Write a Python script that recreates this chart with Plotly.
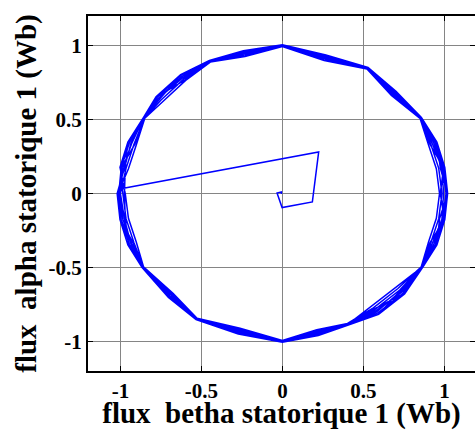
import numpy as np
import plotly.graph_objects as go

# Stator flux locus (beta component on x, alpha component on y), in Wb.

# Start-up transient from rest until the flux reaches the nominal circle
TRANSIENT_X = [-0.006, -0.006, -0.033, -0.002, 0.185, 0.224, -0.98]
TRANSIENT_Y = [-0.003, 0.011, 0.003, -0.095, -0.057, 0.281, 0.035]

# Angular positions (deg) of the sampled points along one revolution
ANGLES = [180, 190, 200, 210, 225, 238, 254, 270, 283, 294.6,
          306, 318, 330, 340, 350, 360, 370, 380, 390.9, 404.6,
          418.2, 434, 450, 464, 476.6, 488, 500, 509.1, 520, 530]

# Flux magnitude (Wb) at those positions, one list per revolution
REV_1 = [1.02, 1.018, 1.015, 1.0, 0.995, 1.006, 0.988, 1.006, 0.985, 0.978,
         1.01, 1.015, 1.0, 1.015, 1.018, 1.02, 1.018, 1.015, 1.0, 0.985,
         1.003, 0.975, 1.006, 0.995, 1.006, 1.02, 1.018, 1.0, 1.015, 1.018]
REV_2 = [0.97, 0.965, 0.96, 0.99, 0.955, 0.994, 0.948, 0.994, 0.945, 0.966,
         0.955, 0.96, 0.99, 0.96, 0.965, 0.97, 0.965, 0.96, 0.99, 0.945,
         0.991, 0.935, 0.994, 0.955, 0.994, 0.97, 0.965, 0.99, 0.96, 0.965]
REV_3 = [1.015, 1.01, 1.005, 0.998, 0.985, 1.003, 0.978, 1.003, 0.975, 0.975,
         1.0, 1.005, 0.998, 1.005, 1.01, 1.015, 1.01, 1.005, 0.998, 0.975,
         1.0, 0.965, 1.003, 0.985, 1.003, 1.015, 1.01, 0.998, 1.005, 1.01]
REV_4 = [0.985, 0.98, 0.975, 0.992, 0.965, 0.997, 0.958, 0.997, 0.955, 0.969,
         0.97, 0.975, 0.992, 0.975, 0.98, 0.985, 0.98, 0.975, 0.992, 0.955,
         0.994, 0.945, 0.997, 0.965, 0.997, 0.985, 0.98, 0.992, 0.975, 0.98]
REV_5 = [1.0, 0.99, 0.995, 0.995, 0.97, 1.0, 0.975, 1.0, 0.96, 0.972,
         0.99, 0.985, 0.995, 0.985, 1.0, 0.995, 1.0, 0.985, 0.995, 0.97,
         0.997, 0.95, 1.0, 0.98, 1.0, 0.995, 1.0, 0.995, 0.995, 0.99]
REV_6 = [1.02, 1.015, 0.98, 0.999, 0.99, 0.998, 0.962, 1.004, 0.98, 0.974,
         1.01, 0.98, 0.998, 1.015, 0.985, 1.02, 0.99, 1.015, 0.999, 0.98,
         0.995, 0.97, 1.004, 0.965, 1.004, 1.018, 0.99, 0.999, 1.015, 0.985]
REV_7 = [0.975, 0.985, 1.01, 0.993, 0.96, 1.002, 0.985, 0.996, 0.95, 0.97,
         0.965, 1.01, 0.993, 0.97, 1.015, 0.975, 1.01, 0.97, 0.993, 0.95,
         0.999, 0.96, 0.996, 0.99, 0.998, 0.975, 1.015, 0.993, 0.97, 1.01]
REV_8 = [1.01, 1.0, 0.99, 0.997, 0.98, 0.999, 0.97, 1.001, 0.97, 0.973,
         0.98, 0.995, 0.997, 0.995, 1.005, 1.01, 1.005, 0.995, 0.997, 0.96,
         0.996, 0.958, 1.001, 0.975, 1.001, 1.005, 1.0, 0.997, 0.99, 1.0]
REVOLUTIONS = [REV_1, REV_2, REV_3, REV_4, REV_5, REV_6, REV_7, REV_8]

# Last, partial revolution (ends with a jump to the 330 deg vertex)
LAST_ANGLES = [180, 190, 200, 210, 225, 238, 254, 270, 283, 294.6, 330]
LAST_REV = [1.005, 1.0, 0.995, 1.0, 0.98, 1.0, 0.97, 1.0, 0.965, 0.972, 0.995]

TICK_VALS = [-1, -0.5, 0, 0.5, 1]
TICK_TEXT = ["-1", "-0.5", "0", "0.5", "1"]


def to_xy(angles, radii):
    a = np.deg2rad(np.asarray(angles, dtype=float))
    r = np.asarray(radii, dtype=float)
    return list(r * np.cos(a)), list(r * np.sin(a))


xs, ys = list(TRANSIENT_X), list(TRANSIENT_Y)
for rev in REVOLUTIONS:
    px, py = to_xy(ANGLES, rev)
    xs += px
    ys += py
px, py = to_xy(LAST_ANGLES, LAST_REV)
xs += px
ys += py

fig = go.Figure()
fig.add_trace(go.Scatter(x=xs, y=ys, mode="lines",
                         line=dict(color="#0000ff", width=1.5),
                         hoverinfo="skip"))
# empty trace so the right-hand tick axis is drawn
fig.add_trace(go.Scatter(x=[None], y=[None], yaxis="y2", showlegend=False))

font_family = "Liberation Serif"


def tick_font():
    return dict(family=font_family, size=21, color="black", weight="bold")


def title_font():
    return dict(family=font_family, size=29, color="black", weight="bold")


def axis_common():
    return dict(tickvals=TICK_VALS, ticktext=TICK_TEXT, ticks="inside",
                ticklen=5, tickwidth=1, tickcolor="black",
                showgrid=True, gridcolor="#858585", gridwidth=1,
                zeroline=False, tickfont=tick_font(), automargin=False)


fig.update_layout(
    width=475, height=430,
    margin=dict(l=88, r=0, t=16, b=59),
    paper_bgcolor="white", plot_bgcolor="white",
    showlegend=False,
    xaxis=dict(range=[-1.2, 1.189], showline=True, linecolor="black",
               linewidth=2, mirror="ticks",
               title=dict(text="flux\u00a0 betha statorique 1 (Wb)",
                          font=title_font(), standoff=4),
               **axis_common()),
    yaxis=dict(range=[-1.2, 1.2], showline=True, linecolor="black",
               linewidth=2, mirror=False,
               title=dict(text="flux\u00a0 alpha statorique 1 (Wb)",
                          font=title_font(), standoff=3),
               **axis_common()),
    yaxis2=dict(range=[-1.2, 1.2], overlaying="y", side="right", anchor="x",
                tickvals=TICK_VALS, ticks="inside", ticklen=5, tickwidth=1,
                tickcolor="black", showticklabels=False, showline=False,
                showgrid=False, zeroline=False),
)

fig.write_html("out.html")
